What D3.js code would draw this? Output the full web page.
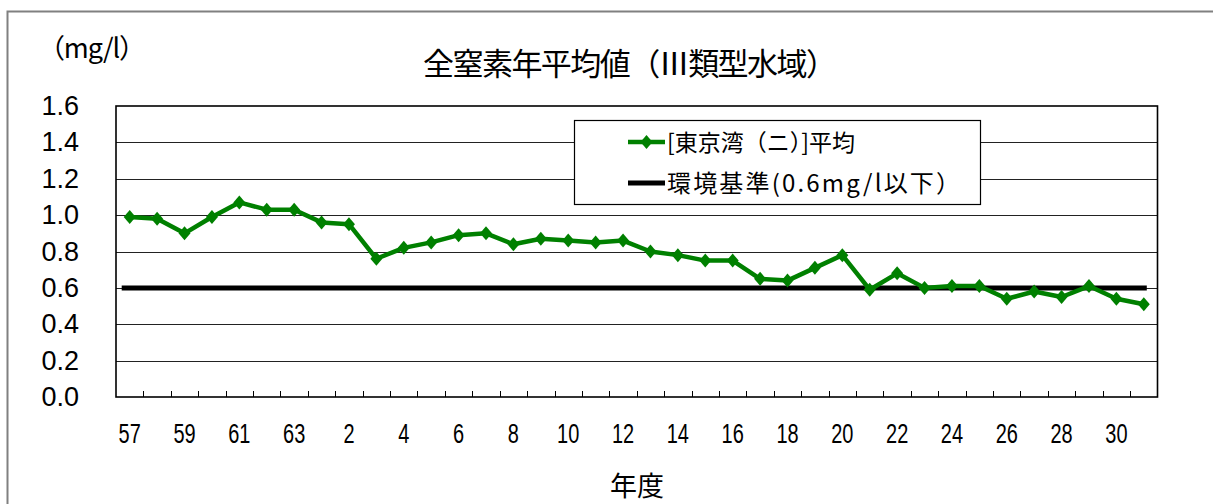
<!DOCTYPE html>
<html>
<head>
<meta charset="utf-8">
<script src="https://cdn.jsdelivr.net/npm/d3@7"></script>
<style>
  body { margin: 0; background: #fff; }
  text { font-family: "Noto Sans CJK JP", "Liberation Sans", sans-serif; }
</style>
</head>
<body>
<script>
// 年度 (昭和57〜平成31)
const years = ["57","58","59","60","61","62","63","元","2","3","4","5","6","7","8","9","10",
  "11","12","13","14","15","16","17","18","19","20","21","22","23","24","25","26","27","28","29","30","31"];
// 全窒素年平均値 [東京湾(ニ)]平均
const nitrogen = [0.99,0.98,0.90,0.99,1.07,1.03,1.03,0.96,0.95,0.76,0.82,0.85,0.89,0.90,0.84,
  0.87,0.86,0.85,0.86,0.80,0.78,0.75,0.75,0.65,0.64,0.71,0.78,0.59,0.68,0.60,0.61,0.61,
  0.54,0.58,0.55,0.61,0.54,0.51];
const standard = 0.6;
const yTicks = [0, 0.2, 0.4, 0.6, 0.8, 1.0, 1.2, 1.4, 1.6];
const legendLabels = ["[東京湾（ニ）]平均", "環境基準(0.6mg/l以下）"];

const width = 1213, height = 504;
const plot = { left: 116, top: 106, right: 1157.5, bottom: 397 };

const svg = d3.select("body").append("svg")
  .attr("width", width)
  .attr("height", height);

// outer frame (right/bottom run off the picture)
svg.append("rect")
  .attr("x", 7.5).attr("y", 11.5)
  .attr("width", 1230).attr("height", 520)
  .attr("fill", "none")
  .attr("stroke", "#808080")
  .attr("stroke-width", 2);

const x = d3.scaleBand().domain(years).range([plot.left, plot.right]);
const y = d3.scaleLinear().domain([0, 1.6]).range([plot.bottom, plot.top]);
const cx = d => x(d) + x.bandwidth() / 2;

// grid lines
svg.append("g")
  .selectAll("line")
  .data(yTicks.filter(d => d > 0 && d < 1.6))
  .enter().append("line")
  .attr("x1", plot.left).attr("x2", plot.right)
  .attr("y1", d => Math.round(y(d)) + 0.5)
  .attr("y2", d => Math.round(y(d)) + 0.5)
  .attr("stroke", "#222")
  .attr("stroke-width", 1);

// plot border
svg.append("rect")
  .attr("x", plot.left).attr("y", plot.top)
  .attr("width", plot.right - plot.left).attr("height", plot.bottom - plot.top)
  .attr("fill", "none")
  .attr("stroke", "#000")
  .attr("stroke-width", 1.6);

// y labels
svg.append("g")
  .selectAll("text")
  .data(yTicks)
  .enter().append("text")
  .attr("x", 79)
  .attr("y", d => y(d) + 9)
  .attr("text-anchor", "end")
  .style("font-family", "'Liberation Sans', Arial, sans-serif")
  .style("font-size", "27px")
  .attr("fill", "#000")
  .text(d => d.toFixed(1));

// x ticks between categories (pointing up)
const bounds = years.slice(1).map(d => x(d));
svg.append("g")
  .selectAll("line")
  .data(bounds)
  .enter().append("line")
  .attr("x1", d => Math.round(d) + 0.5).attr("x2", d => Math.round(d) + 0.5)
  .attr("y1", plot.bottom).attr("y2", plot.bottom - 6)
  .attr("stroke", "#000")
  .attr("stroke-width", 1);

// x labels, every other year (narrow face)
svg.append("g")
  .selectAll("text")
  .data(years.filter((d, i) => i % 2 === 0))
  .enter().append("text")
  .attr("transform", d => `translate(${cx(d)},443) scale(0.74,1)`)
  .attr("text-anchor", "middle")
  .style("font-family", "'Liberation Sans', Arial, sans-serif")
  .style("font-size", "27px")
  .text(d => d);

// environmental standard line
svg.append("line")
  .attr("x1", cx(years[0]) - 8)
  .attr("x2", cx(years[years.length - 1]) + 3)
  .attr("y1", y(standard)).attr("y2", y(standard))
  .attr("stroke", "#000")
  .attr("stroke-width", 5);

// nitrogen series
const line = d3.line()
  .x((d, i) => cx(years[i]))
  .y(d => y(d));

svg.append("path")
  .datum(nitrogen)
  .attr("d", line)
  .attr("fill", "none")
  .attr("stroke", "#008000")
  .attr("stroke-width", 4.5)
  .attr("stroke-linejoin", "round");

const diamond = "M0,-7L6,0L0,7L-6,0Z";
svg.append("g")
  .selectAll("path")
  .data(nitrogen)
  .enter().append("path")
  .attr("d", diamond)
  .attr("transform", (d, i) => `translate(${cx(years[i])},${y(d)})`)
  .attr("fill", "#008000");

// legend
const legend = svg.append("g");
legend.append("rect")
  .attr("x", 574.5).attr("y", 120.5)
  .attr("width", 406).attr("height", 84)
  .attr("fill", "#fff")
  .attr("stroke", "#000")
  .attr("stroke-width", 1.2);

legend.append("line")
  .attr("x1", 628).attr("x2", 665)
  .attr("y1", 142).attr("y2", 142)
  .attr("stroke", "#008000").attr("stroke-width", 4.5);
legend.append("path")
  .attr("d", diamond)
  .attr("transform", "translate(646.5,142)")
  .attr("fill", "#008000");
legend.append("line")
  .attr("x1", 628).attr("x2", 665)
  .attr("y1", 183).attr("y2", 183)
  .attr("stroke", "#000").attr("stroke-width", 5);

legend.append("text")
  .attr("x", 667).attr("y", 151)
  .style("font-size", "23px")
  .text(legendLabels[0]);
legend.append("text")
  .attr("x", 667).attr("y", 192)
  .attr("textLength", 293)
  .attr("lengthAdjust", "spacing")
  .style("font-size", "24px")
  .text(legendLabels[1]);

// title and axis captions
svg.append("text")
  .attr("x", 630).attr("y", 75)
  .attr("text-anchor", "middle")
  .attr("textLength", 414)
  .attr("lengthAdjust", "spacing")
  .style("font-size", "31px")
  .text("全窒素年平均値（Ⅲ類型水域）");

svg.append("text")
  .attr("x", 38).attr("y", 58)
  .attr("textLength", 108)
  .attr("lengthAdjust", "spacing")
  .style("font-size", "27px")
  .text("（mg/l）");

svg.append("text")
  .attr("x", 637).attr("y", 496)
  .attr("text-anchor", "middle")
  .style("font-size", "27px")
  .text("年度");
</script>
</body>
</html>
